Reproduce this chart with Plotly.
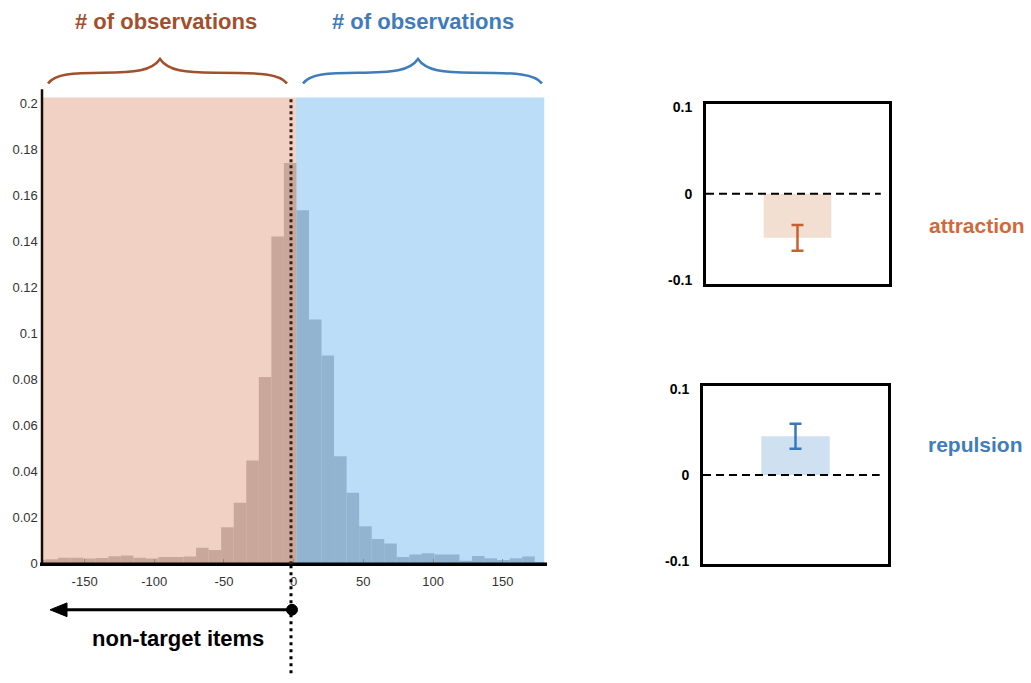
import plotly.graph_objects as go

W, H = 1031, 683

# ---------------- data ----------------
# histogram (bin width 9, centres at -2.5 + 9k)
bin_width = 9
left_centers = [-182.5, -173.5, -164.5, -155.5, -146.5, -137.5, -128.5, -119.5, -110.5, -101.5,
                -92.5, -83.5, -74.5, -65.5, -56.5, -47.5, -38.5, -29.5, -20.5, -11.5, -2.5]
left_values = [0.0015, 0.0017, 0.0024, 0.0024, 0.0020, 0.0022, 0.0030, 0.0033, 0.0024, 0.0020,
               0.0027, 0.0027, 0.0029, 0.0067, 0.0057, 0.0156, 0.0263, 0.0446, 0.0809, 0.142, 0.174]
right_centers = [6.5, 15.5, 24.5, 33.5, 42.5, 51.5, 60.5, 69.5, 78.5, 87.5,
                 96.5, 105.5, 114.5, 123.5, 132.5, 141.5, 150.5, 159.5, 168.5, 177.5]
right_values = [0.1535, 0.106, 0.0903, 0.0465, 0.0306, 0.0161, 0.0105, 0.0085, 0.0027, 0.0038,
                0.0043, 0.0038, 0.0038, 0.0010, 0.0031, 0.0021, 0.0014, 0.0021, 0.0029, 0.0003]
x_ticks = [-150, -100, -50, 0, 50, 100, 150]
y_ticks = [0, 0.02, 0.04, 0.06, 0.08, 0.1, 0.12, 0.14, 0.16, 0.18, 0.2]
y_ticktext = ["0", "0.02", "0.04", "0.06", "0.08", "0.1", "0.12", "0.14", "0.16", "0.18", "0.2"]

# summary panels
attraction_mean = [-0.051]
attraction_err = [0.015]
repulsion_mean = [0.045]
repulsion_err = [0.0145]
panel_ticks = [-0.1, 0, 0.1]
panel_ticktext = ["-0.1", "0", "0.1"]

# ---------------- helpers ----------------
def px(x):
    return x / W

def py(y):
    return 1 - y / H

FONT = "Liberation Sans, Arial, Helvetica, sans-serif"
BROWN = "#A2502C"
BLUE = "#3E7CBC"
YTOP = 0.2026

fig = go.Figure()

fig.add_trace(go.Bar(x=left_centers, y=left_values, width=bin_width,
                     marker=dict(color="#C9A89B", line=dict(width=0)),
                     xaxis="x", yaxis="y", showlegend=False, hoverinfo="skip"))
fig.add_trace(go.Bar(x=right_centers, y=right_values, width=bin_width,
                     marker=dict(color="#92B4D0", line=dict(width=0)),
                     xaxis="x", yaxis="y", showlegend=False, hoverinfo="skip"))

fig.add_trace(go.Bar(x=[0], y=attraction_mean, width=0.74,
                     marker=dict(color="#F2DFD2", line=dict(width=0)),
                     error_y=dict(type="data", array=attraction_err, color="#C8612E",
                                  thickness=2.5, width=6),
                     xaxis="x2", yaxis="y2", showlegend=False, hoverinfo="skip"))
fig.add_trace(go.Bar(x=[0], y=repulsion_mean, width=0.74,
                     marker=dict(color="#CFE1F1", line=dict(width=0)),
                     error_y=dict(type="data", array=repulsion_err, color="#3A77B8",
                                  thickness=2.5, width=6),
                     xaxis="x3", yaxis="y3", showlegend=False, hoverinfo="skip"))

shapes = []
# background halves
shapes.append(dict(type="rect", xref="x", yref="y", x0=-180, x1=1.6, y0=0, y1=YTOP,
                   fillcolor="#F2D1C5", line=dict(width=0), layer="below"))
shapes.append(dict(type="rect", xref="x", yref="y", x0=1.6, x1=180, y0=0, y1=YTOP,
                   fillcolor="#BBDDF7", line=dict(width=0), layer="below"))
# axis lines
shapes.append(dict(type="line", xref="paper", yref="paper", x0=px(42), x1=px(42),
                   y0=py(86), y1=py(571), line=dict(color="#1a0d08", width=2.5)))
shapes.append(dict(type="line", xref="paper", yref="paper", x0=px(40), x1=px(547),
                   y0=py(570), y1=py(570), line=dict(color="black", width=3.5)))
# dotted vertical line
shapes.append(dict(type="line", xref="paper", yref="paper", x0=px(291), x1=px(291),
                   y0=py(96), y1=py(571), line=dict(color="#3B1E14", width=3, dash="3px,3px")))
shapes.append(dict(type="line", xref="paper", yref="paper", x0=px(291), x1=px(291),
                   y0=py(571), y1=py(683), line=dict(color="black", width=3, dash="3px,4px")))
# arrow
shapes.append(dict(type="line", xref="paper", yref="paper", x0=px(292), x1=px(62),
                   y0=py(616.5), y1=py(616.5), line=dict(color="black", width=3)))
shapes.append(dict(type="path", xref="paper", yref="paper",
                   path=f"M {px(50):.5f},{py(616.5):.5f} L {px(67):.5f},{py(609.5):.5f} "
                        f"L {px(67):.5f},{py(623.5):.5f} Z",
                   fillcolor="black", line=dict(color="black", width=1)))
shapes.append(dict(type="circle", xref="paper", yref="paper",
                   x0=px(286.5), x1=px(297.5), y0=py(622), y1=py(611),
                   fillcolor="black", line=dict(color="black", width=1)))


def brace(x0, xc, x1, color):
    yend, yflat, ycusp = 80, 69, 55
    pts = [
        ("M", [(x0, yend)]),
        ("C", [(x0 + 7, yflat + 1), (x0 + 25, yflat), (x0 + 55, yflat)]),
        ("C", [(xc - 25, yflat), (xc - 8, yflat - 2), (xc, ycusp)]),
        ("C", [(xc + 8, yflat - 2), (xc + 25, yflat), (xc + 55, yflat)]),
        ("C", [(x1 - 25, yflat), (x1 - 7, yflat + 1), (x1, yend)]),
    ]
    s = ""
    for cmd, plist in pts:
        s += cmd + " " + " ".join(f"{px(a):.5f},{py(b):.5f}" for a, b in plist) + " "
    return dict(type="path", xref="paper", yref="paper", path=s.strip(),
                line=dict(color=color, width=2.5))


shapes.append(brace(48, 160, 287, BROWN))
shapes.append(brace(303, 418, 542, BLUE))

# dashed zero lines in the panels
shapes.append(dict(type="line", xref="x2", yref="y2", x0=-1, x1=0.91, y0=0, y1=0,
                   line=dict(color="black", width=2, dash="8px,5px")))
shapes.append(dict(type="line", xref="x3", yref="y3", x0=-1, x1=0.91, y0=0, y1=0,
                   line=dict(color="black", width=2, dash="8px,5px")))

annotations = [
    dict(text="<b># of observations</b>", x=px(166), y=py(17), xref="paper", yref="paper",
         showarrow=False, xanchor="center", yanchor="middle",
         font=dict(family=FONT, size=22, color=BROWN)),
    dict(text="<b># of observations</b>", x=px(423), y=py(17), xref="paper", yref="paper",
         showarrow=False, xanchor="center", yanchor="middle",
         font=dict(family=FONT, size=22, color=BLUE)),
    dict(text="<b>non-target items</b>", x=px(178), y=py(646), xref="paper", yref="paper",
         showarrow=False, xanchor="center", yanchor="middle",
         font=dict(family=FONT, size=22, color="black")),
    dict(text="<b>attraction</b>", x=px(977), y=py(225), xref="paper", yref="paper",
         showarrow=False, xanchor="center", yanchor="middle",
         font=dict(family=FONT, size=21, color="#D2693B")),
    dict(text="<b>repulsion</b>", x=px(975), y=py(448), xref="paper", yref="paper",
         showarrow=False, xanchor="center", yanchor="middle",
         font=dict(family=FONT, size=21, color="#3F7DBB")),
]

tickfont_main = dict(family=FONT, size=13, color="#333333")
tickfont_panel = dict(family=FONT, size=14, color="black", weight="bold")

panel_x = dict(range=[-1, 1], showticklabels=False, ticks="", showgrid=False, zeroline=False,
               showline=True, mirror=True, linewidth=3, linecolor="black")
panel_y = dict(range=[-0.104, 0.104], tickvals=panel_ticks, ticktext=panel_ticktext,
               ticks="", showgrid=False, zeroline=False, showline=True, mirror=True,
               linewidth=3, linecolor="black", tickfont=tickfont_panel, ticklabelstandoff=8)

fig.update_layout(
    width=W, height=H,
    margin=dict(l=0, r=0, t=0, b=0),
    paper_bgcolor="white", plot_bgcolor="rgba(0,0,0,0)",
    barmode="overlay",
    showlegend=False,
    xaxis=dict(domain=[px(42.8), px(544.5)], range=[-180, 180], tickvals=x_ticks,
               ticktext=[str(t) for t in x_ticks], ticks="inside", ticklen=4,
               tickcolor="#8a8a8a", tickwidth=1, showgrid=False, zeroline=False,
               showline=False, tickfont=tickfont_main, anchor="y", ticklabelstandoff=9),
    yaxis=dict(domain=[py(569), py(94)], range=[0, YTOP], tickvals=y_ticks,
               ticktext=y_ticktext, ticks="", showgrid=False, zeroline=False,
               showline=False, tickfont=tickfont_main, anchor="x", ticklabelstandoff=4),
    xaxis2=dict(domain=[px(706), px(889)], anchor="y2", **panel_x),
    yaxis2=dict(domain=[py(284), py(101)], anchor="x2", **panel_y),
    xaxis3=dict(domain=[px(703), px(888)], anchor="y3", **panel_x),
    yaxis3=dict(domain=[py(570), py(388)], anchor="x3", **panel_y),
    shapes=shapes,
    annotations=annotations,
)

fig.write_html("out.html")
